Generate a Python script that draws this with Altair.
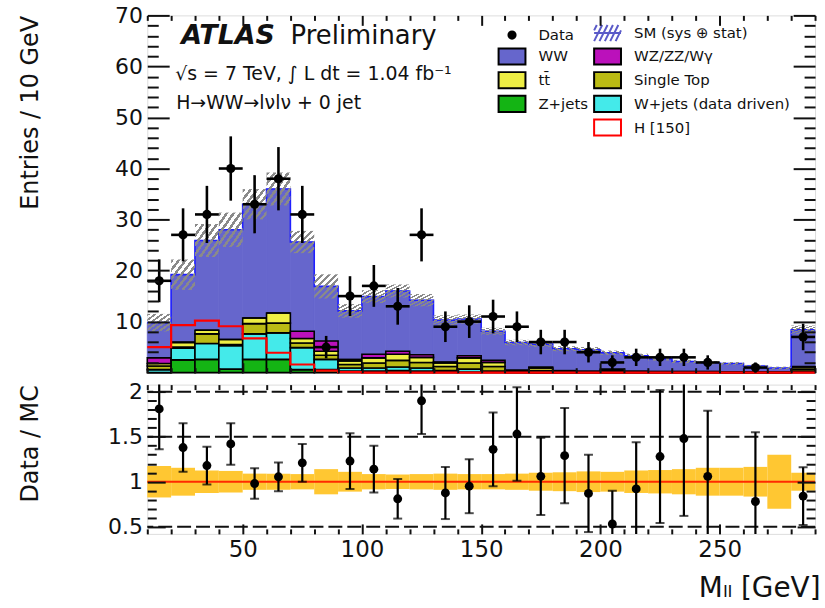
import altair as alt
import pandas as pd

FONT = "DejaVu Sans"

# ---------------- values ----------------
bin_lo = list(range(10, 290, 10))          # 28 bins of 10 GeV, 10 .. 290

# stacked backgrounds, bottom -> top
z_jets     = [0.0, 2.5, 2.6, 0.7, 2.6, 2.6, 0.6, 0.6, 0.3, 0.3, 0.4, 0.3, 0.1, 0.1, 0.1, 0.0, 0.0, 0.0, 0.0, 0.0, 0.0, 0.0, 0.0, 0.0, 0.0, 0.0, 0.0, 0.1]
w_jets     = [0.6, 2.3, 3.1, 4.6, 5.0, 5.2, 4.3, 2.0, 0.6, 0.6, 0.7, 0.6, 0.3, 0.6, 0.2, 0.1, 0.0, 0.0, 0.0, 0.0, 0.0, 0.0, 0.0, 0.0, 0.0, 0.0, 0.0, 0.2]
single_top = [0.7, 0.2, 1.9, 0.2, 2.0, 1.9, 0.9, 0.8, 0.7, 1.0, 1.3, 1.1, 0.8, 1.2, 0.9, 0.2, 0.4, 0.2, 0.1, 0.3, 0.1, 0.1, 0.1, 0.1, 0.05, 0.05, 0.05, 0.4]
ttbar      = [0.5, 0.9, 0.7, 1.0, 1.1, 2.0, 0.9, 0.8, 0.7, 1.0, 1.2, 1.0, 0.7, 1.0, 0.8, 0.1, 0.5, 0.1, 0.1, 0.3, 0.1, 0.1, 0.1, 0.1, 0.05, 0.05, 0.05, 0.4]
wz_zz_wg   = [1.1, 0.1, 0.0, 0.0, 0.0, 0.0, 1.4, 2.0, 0.3, 0.7, 0.6, 0.5, 0.2, 0.4, 0.4, 0.1, 0.2, 0.1, 0.1, 0.1, 0.1, 0.0, 0.0, 0.0, 0.0, 0.0, 0.0, 0.1]
ww         = [6.9, 13.2, 17.6, 21.5, 22.3, 24.3, 17.5, 10.7, 9.5, 11.3, 11.8, 10.7, 8.2, 7.2, 5.7, 5.4, 4.5, 4.3, 4.2, 3.2, 3.0, 2.5, 2.0, 1.75, 1.7, 1.2, 0.8, 7.2]
# relative MC uncertainty (yellow band / hatched band)
mc_rel_err = [0.175, 0.155, 0.125, 0.12, 0.09, 0.09, 0.085, 0.14, 0.11, 0.085, 0.08, 0.085, 0.09, 0.085,
              0.085, 0.09, 0.10, 0.105, 0.115, 0.11, 0.125, 0.13, 0.14, 0.155, 0.155, 0.165, 0.30, 0.10]
# Higgs (150 GeV) signal, drawn unstacked
h150 = [5.0, 9.3, 10.2, 9.1, 6.7, 3.9, 1.6, 0.4, 0.1] + [0.0] * 19

# data
data_n   = [18, 27, 31, 40, 33, 38, 31, 5, 15, 17, 13, 27, 9, 10, 11, 9, 6, 6, 4, 2, 3, 3, 3, 2, None, 1, None, 7]
data_err = [4.2, 5.2, 5.6, 6.3, 5.7, 6.2, 5.6, 2.2, 3.9, 4.1, 3.6, 5.2, 3.0, 3.2, 3.3, 3.0, 2.4, 2.4, 2.0, 1.4,
            1.7, 1.7, 1.7, 1.4, None, 1.0, None, 2.6]

# Data / MC ratio panel
ratio     = [1.81, 1.38, 1.18, 1.42, 0.98, 1.055, 1.21, None, 1.23, 1.14, 0.81, 1.90, 0.875, 0.95,
             1.36, 1.53, 1.06, 1.29, 0.87, 0.53, 0.92, 1.28, 1.48, 1.06, None, 0.78, None, 0.84]
ratio_err = [0.45, 0.27, 0.21, 0.23, 0.17, 0.16, 0.21, None, 0.31, 0.26, 0.22, 0.37, 0.29, 0.30,
             0.41, 0.52, 0.43, 0.53, 0.43, 0.37, 0.52, 0.74, 0.86, 0.73, None, 0.77, None, 0.32]
ratio_lines = [0.5, 1.5, 2.0]

# legend entries (filled column by column: left column first, then right column)
legend_names = ["Data", "WW", "tt̄", "Z+jets", " ",
                "SM (sys ⊕ stat)", "WZ/ZZ/Wγ", "Single Top", "W+jets (data driven)", "H [150]"]
legend_fill = ["#000000", "#6666cc", "#eeee44", "#14b414", "rgba(0,0,0,0)",
               "rgba(0,0,0,0)", "#bb11bb", "#bbbb14", "#44eaea", "#ffffff"]
legend_stroke = ["#000000", "#000000", "#000000", "#000000", "rgba(0,0,0,0)",
                 "#5a5ac8", "#000000", "#000000", "#000000", "#ff0000"]

# ---------------- tables ----------------
comp_names = ["Z+jets", "W+jets (data driven)", "Single Top", "tt̄", "WZ/ZZ/Wγ", "WW"]
comp_vals = [z_jets, w_jets, single_top, ttbar, wz_zz_wg, ww]
rows = []
for i, lo in enumerate(bin_lo):
    for k, (nm, arr) in enumerate(zip(comp_names, comp_vals)):
        rows.append({"lo": lo, "hi": lo + 10, "comp": nm, "val": arr[i], "order": k})
stack_df = pd.DataFrame(rows)

total = [sum(arr[i] for arr in comp_vals) for i in range(len(bin_lo))]
bins_df = pd.DataFrame({"lo": bin_lo, "hi": [b + 10 for b in bin_lo],
                        "center": [b + 5 for b in bin_lo], "total": total, "rel": mc_rel_err})
step_df = pd.DataFrame({"x": bin_lo + [290], "sm": total + [total[-1]], "h": h150 + [h150[-1]]})
data_df = pd.DataFrame({"center": [b + 5 for b in bin_lo], "lo": bin_lo, "hi": [b + 10 for b in bin_lo],
                        "n": data_n, "err": data_err, "r": ratio, "rerr": ratio_err})
data_main = data_df.dropna(subset=["n"])
data_ratio = data_df.dropna(subset=["r"])
lines_df = pd.DataFrame({"y": ratio_lines})
one_df = pd.DataFrame({"y": [1.0]})
legend_df = pd.DataFrame({"comp": legend_names, "x": [-100] * len(legend_names), "y": [-100] * len(legend_names)})
text_df = pd.DataFrame({
    "x": [24.2, 70.1, 21.7, 22.1],
    "y": [64.3, 64.3, 57.4, 51.6],
    "t": ["ATLAS", "Preliminary", "√s = 7 TeV, ∫ L dt = 1.04 fb⁻¹", "H→WW→lνlν + 0 jet"],
})

# ---------------- scales ----------------
xs = alt.Scale(domain=[10, 290], nice=False, zero=False)
ys_main = alt.Scale(domain=[0, 70], nice=False, zero=False)
ys_ratio = alt.Scale(domain=[0.42, 2.08], nice=False, zero=False)

# legend symbol paths (unit box scaled by sqrt(symbolSize)/2 = 6 px)
rect_path = "M-2.25,-1.35H2.25V1.35H-2.25Z"
circle_path = ("M0,-0.6C0.331,-0.6 0.6,-0.331 0.6,0C0.6,0.331 0.331,0.6 0,0.6"
               "C-0.331,0.6 -0.6,0.331 -0.6,0C-0.6,-0.331 -0.331,-0.6 0,-0.6Z")
sm_path = ("M-2.25,0H2.25M-2.25,1.35L-0.9,-1.35M-1.35,1.35L0,-1.35M-0.45,1.35L0.9,-1.35"
           "M0.45,1.35L1.8,-1.35M1.35,1.35L2.25,-0.45M-2.25,-0.45L-1.8,-1.35")
legend_shape = [circle_path, rect_path, rect_path, rect_path, rect_path,
                sm_path, rect_path, rect_path, rect_path, rect_path]

fill_scale = alt.Scale(domain=legend_names, range=legend_fill)
stroke_scale = alt.Scale(domain=legend_names, range=legend_stroke)
shape_scale = alt.Scale(domain=legend_names, range=legend_shape)

LEG = alt.Legend(title=None, orient="none", legendX=359, legendY=10, columns=2,
                 symbolSize=144, symbolStrokeWidth=2, labelFont=FONT, labelFontSize=15,
                 labelColor="#111111", labelOffset=19, labelLimit=400, rowPadding={"expr": "-1.2"},
                 columnPadding=2, padding=0, symbolOpacity=1)


def axis(orient, values, major_test, major_len, minor_len, label_test=None, title=None,
         label_size=22, fmt=None, title_size=24, title_pad=0, extent=0, **extra):
    kw = dict(orient=orient, values=values,
              tickSize={"expr": f"({major_test}) ? -{major_len} : -{minor_len}"},
              tickWidth=2, tickColor="#111111", domain=False, grid=False, zindex=1,
              labelOverlap=False, labelFlush=False, minExtent=extent, maxExtent=extent)
    if label_test is not None:
        kw.update(labels=True, labelExpr=f"({label_test}) ? datum.label : ''",
                  labelPadding=major_len + 5, labelFontSize=label_size, labelFont=FONT,
                  labelColor="#111111")
        if fmt:
            kw["format"] = fmt
    else:
        kw["labels"] = False
    if title is not None:
        kw.update(title=title, titleFont=FONT, titleFontSize=title_size, titleFontWeight="normal",
                  titleColor="#111111", titleAnchor="end", titlePadding=title_pad)
    else:
        kw["title"] = None
    kw.update(extra)
    return alt.Axis(**kw)


x_vals = list(range(10, 300, 10))
y_main_vals = list(range(2, 72, 2))
y_ratio_vals = [round(0.5 + 0.1 * i, 1) for i in range(16)]
X_MAJ = "datum.value % 50 === 0"
YM_MAJ = "datum.value % 10 === 0"
YR_MAJ = "abs(datum.value * 2 - round(datum.value * 2)) < 0.001"

# ---------------- main panel ----------------
stack_base = alt.Chart(stack_df).transform_stack(
    stack="val", as_=["y0", "y1"], groupby=["lo"], sort=[alt.SortField("order", order="ascending")]
)

ww_layer = stack_base.transform_filter("datum.comp === 'WW'").mark_rect(
    stroke="#6666cc", strokeWidth=0.8
).encode(
    x=alt.X("lo:Q", scale=xs, axis=axis("bottom", x_vals, X_MAJ, 10, 5)),
    x2="hi:Q",
    y=alt.Y("y0:Q", scale=ys_main,
            axis=axis("left", y_main_vals, YM_MAJ, 22, 11,
                      label_test="datum.value % 10 === 0",
                      title="Entries / 10 GeV", title_pad=65, extent=40)),
    y2="y1:Q",
    fill=alt.Fill("comp:N", scale=fill_scale, legend=LEG),
)

bkg_layer = stack_base.transform_filter("datum.comp !== 'WW'").mark_rect(
    stroke="#000000", strokeWidth=1.6
).encode(
    x=alt.X("lo:Q", scale=xs, axis=axis("top", x_vals, X_MAJ, 10, 5)),
    x2="hi:Q",
    y=alt.Y("y0:Q", scale=ys_main, axis=axis("right", y_main_vals, YM_MAJ, 22, 11)),
    y2="y1:Q",
    fill=alt.Fill("comp:N", scale=fill_scale, legend=LEG),
)

N_STRIPES = 7
stops = []
for i in range(N_STRIPES):
    a, b, c = i / N_STRIPES, (i + 0.45) / N_STRIPES, (i + 1) / N_STRIPES
    stops += [alt.GradientStop(color="#8a8a8a", offset=a), alt.GradientStop(color="#8a8a8a", offset=b),
              alt.GradientStop(color="rgba(255,255,255,0)", offset=b),
              alt.GradientStop(color="rgba(255,255,255,0)", offset=c)]
hatch_fill = alt.Gradient(gradient="linear", stops=stops, x1=0, y1=0, x2=1, y2=1)

sm_line = alt.Chart(step_df).mark_line(interpolate="step-after", color="#2020ff", strokeWidth=1.6).encode(
    x=alt.X("x:Q", scale=xs, axis=None), y=alt.Y("sm:Q", scale=ys_main, axis=None))

hatch_layer = alt.Chart(bins_df).transform_calculate(
    lo_e="datum.total * (1 - datum.rel)", hi_e="datum.total * (1 + datum.rel)"
).mark_rect(fill=hatch_fill).encode(
    x=alt.X("lo:Q", scale=xs, axis=None), x2="hi:Q",
    y=alt.Y("lo_e:Q", scale=ys_main, axis=None), y2="hi_e:Q")

h_line = alt.Chart(step_df).mark_line(interpolate="step-after", color="#ff0000", strokeWidth=2.2).encode(
    x=alt.X("x:Q", scale=xs, axis=None), y=alt.Y("h:Q", scale=ys_main, axis=None))

dbase = alt.Chart(data_main).transform_calculate(
    dlo="datum.n - datum.err", dhi="datum.n + datum.err")
d_v = dbase.mark_rule(color="#000000", strokeWidth=2.6).encode(
    x=alt.X("center:Q", scale=xs, axis=None), y=alt.Y("dlo:Q", scale=ys_main, axis=None), y2="dhi:Q")
d_h = dbase.mark_rule(color="#000000", strokeWidth=2.6).encode(
    x=alt.X("lo:Q", scale=xs, axis=None), x2="hi:Q", y=alt.Y("n:Q", scale=ys_main, axis=None))
d_p = dbase.mark_circle(color="#000000", opacity=1, size=85).encode(
    x=alt.X("center:Q", scale=xs, axis=None), y=alt.Y("n:Q", scale=ys_main, axis=None))

tbase = alt.Chart(text_df)
enc_t = dict(x=alt.X("x:Q", scale=xs, axis=None), y=alt.Y("y:Q", scale=ys_main, axis=None), text="t:N")
t_atlas = tbase.transform_filter("datum.t === 'ATLAS'").mark_text(
    font=FONT, fontSize=27, fontStyle="italic", fontWeight="bold", align="left", baseline="alphabetic",
    color="#111111").encode(**enc_t)
t_prelim = tbase.transform_filter("datum.t === 'Preliminary'").mark_text(
    font=FONT, fontSize=26, align="left", baseline="alphabetic", color="#111111").encode(**enc_t)
t_small = tbase.transform_filter("datum.t !== 'ATLAS' && datum.t !== 'Preliminary'").mark_text(
    font=FONT, fontSize=19, align="left", baseline="alphabetic", color="#111111").encode(**enc_t)

legend_layer = alt.Chart(legend_df).mark_point(filled=True, opacity=1, clip=True).encode(
    x=alt.X("x:Q", scale=xs, axis=None), y=alt.Y("y:Q", scale=ys_main, axis=None),
    fill=alt.Fill("comp:N", scale=fill_scale, legend=LEG),
    stroke=alt.Stroke("comp:N", scale=stroke_scale, legend=LEG),
    shape=alt.Shape("comp:N", scale=shape_scale, legend=LEG),
)

main = alt.layer(
    ww_layer, bkg_layer, sm_line, hatch_layer, h_line, d_v, d_h, d_p,
    t_atlas, t_prelim, t_small, legend_layer
).properties(width=671, height=359).resolve_axis(x="independent", y="independent")

# ---------------- ratio panel ----------------
band = alt.Chart(bins_df).transform_calculate(
    b0="1 - datum.rel", b1="1 + datum.rel"
).mark_rect(color="#ffc732").encode(
    x=alt.X("lo:Q", scale=xs,
            axis=axis("bottom", x_vals, X_MAJ, 10, 5, label_test=X_MAJ, title="Mₗₗ [GeV]",
                      label_size=23, title_size=28, title_pad=11, extent=30,
                      titleX=676, titleAlign="right")),
    x2="hi:Q",
    y=alt.Y("b0:Q", scale=ys_ratio,
            axis=axis("left", y_ratio_vals, YR_MAJ, 18, 9, label_test=YR_MAJ, title="Data / MC",
                      fmt=".1~f", title_pad=65, extent=40)),
    y2="b1:Q",
)
dashed = alt.Chart(lines_df).mark_rule(color="#111111", strokeWidth=2, strokeDash=[14, 5]).encode(
    y=alt.Y("y:Q", scale=ys_ratio, axis=None))
one_line = alt.Chart(one_df).mark_rule(color="#ff2a00", strokeWidth=2.2).encode(
    y=alt.Y("y:Q", scale=ys_ratio, axis=None))

rbase = alt.Chart(data_ratio).transform_calculate(
    rlo="datum.r - datum.rerr", rhi="datum.r + datum.rerr")
r_v = rbase.mark_rule(color="#000000", strokeWidth=2.2, clip=True).encode(
    x=alt.X("center:Q", scale=xs, axis=None), y=alt.Y("rlo:Q", scale=ys_ratio, axis=None), y2="rhi:Q")
r_cap_lo = rbase.mark_tick(orient="horizontal", size=9, thickness=2, color="#000000", clip=True).encode(
    x=alt.X("center:Q", scale=xs, axis=None), y=alt.Y("rlo:Q", scale=ys_ratio, axis=None))
r_cap_hi = rbase.mark_tick(orient="horizontal", size=9, thickness=2, color="#000000", clip=True).encode(
    x=alt.X("center:Q", scale=xs, axis=None), y=alt.Y("rhi:Q", scale=ys_ratio, axis=None))
r_p = rbase.mark_circle(color="#000000", opacity=1, size=80, clip=True).encode(
    x=alt.X("center:Q", scale=xs, axis=axis("top", x_vals, X_MAJ, 10, 5)),
    y=alt.Y("r:Q", scale=ys_ratio, axis=axis("right", y_ratio_vals, YR_MAJ, 18, 9)))

ratio_panel = alt.layer(
    band, dashed, one_line, r_v, r_cap_lo, r_cap_hi, r_p
).properties(width=671, height=150).resolve_axis(x="independent", y="independent")

chart = alt.vconcat(main, ratio_panel, spacing=2).resolve_scale(
    fill="independent", stroke="independent", shape="independent"
).properties(
    padding={"left": 18, "top": 2, "right": 4, "bottom": 2}
).configure_view(stroke="#1a1a1a", strokeWidth=2).configure(font=FONT, background="white")

chart.save("out.html", embed_options={"renderer": "svg", "actions": False})
